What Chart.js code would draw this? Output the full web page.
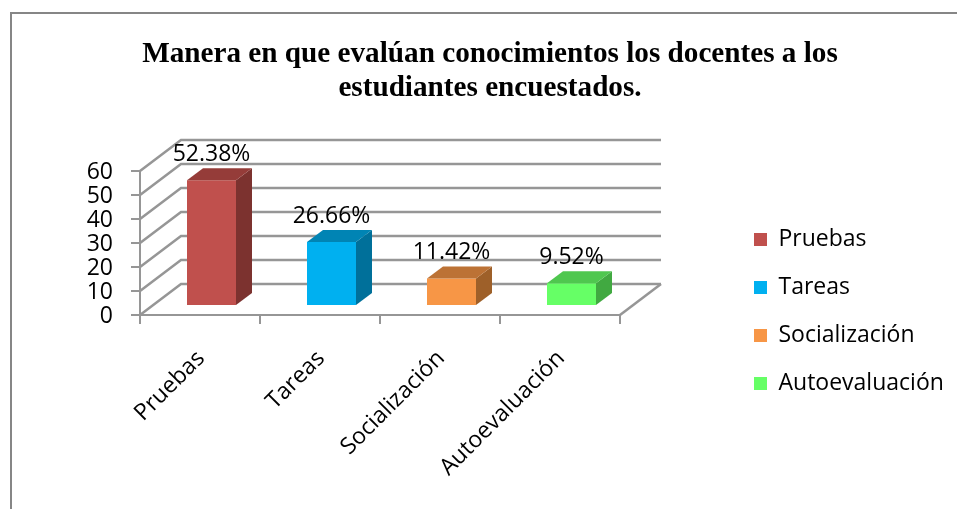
<!DOCTYPE html>
<html><head><meta charset="utf-8">
<style>html,body{margin:0;padding:0;background:#fff;overflow:hidden}#w{position:relative;width:957px;height:509px}</style>
<script src="https://cdn.jsdelivr.net/npm/chart.js@4"></script>
</head><body><div id="w"><canvas id="c" width="957" height="509"></canvas></div>
<script>
const titleLines = ["Manera en que evalúan conocimientos los docentes a los", "estudiantes encuestados."];
const categories = ["Pruebas", "Tareas", "Socialización", "Autoevaluación"];
const values = [52.38, 26.66, 11.42, 9.52];
const frontColors = ["#C0504D", "#00B0F0", "#F79646", "#66FF66"];
const topColors = ["#953C39", "#0084B4", "#BC7235", "#4FC74F"];
const sideColors = ["#7C322F", "#00709A", "#9E6029", "#41A941"];
const FONT = "'Open Sans'";
const BAR_SHIFT = {x: 11.5, y: -9}, BAR_DEPTH = {x: 16, y: -12}, WALL = {x: 41, y: -31};
const GRID = "#969696";

const scene = {
  id: 'scene',
  beforeLayout(chart) {
    const lg = chart.legend, fit = lg.fit;
    if (!lg._wrapped) {
      lg._wrapped = true;
      lg.fit = function () { fit.call(this); this.width = 337; };
    }
  },
  beforeDraw(chart) {
    const c = chart.ctx;
    c.save();
    c.fillStyle = '#fff'; c.fillRect(0, 0, chart.width, chart.height);
    c.strokeStyle = '#868686'; c.lineWidth = 2;
    c.beginPath(); c.moveTo(11, 509); c.lineTo(11, 13); c.lineTo(957, 13); c.stroke();
    c.restore();
    chart.legend.left = 729;
    chart.legend.top = 203;
    chart.legend.bottom = 500;
  },
  beforeDatasetsDraw(chart) {
    const c = chart.ctx, y = chart.scales.y, x = chart.scales.x;
    const l = x.left, r = x.right;
    c.save();
    c.strokeStyle = GRID; c.lineWidth = 2.5;
    y.ticks.forEach(t => {
      const p = y.getPixelForValue(t.value);
      c.beginPath();
      c.moveTo(l, p); c.lineTo(l + WALL.x, p + WALL.y); c.lineTo(r + WALL.x, p + WALL.y);
      c.stroke();
    });
    const p0 = y.getPixelForValue(0);
    c.beginPath(); c.moveTo(r, p0); c.lineTo(r + WALL.x, p0 + WALL.y); c.stroke();
    c.restore();
    c.save();
    c.translate(BAR_SHIFT.x, BAR_SHIFT.y);
  },
  afterDatasetsDraw(chart) {
    const c = chart.ctx;
    const bars = chart.getDatasetMeta(0).data;
    bars.forEach((b, i) => {
      const {x, y, base, width} = b.getProps(['x', 'y', 'base', 'width'], true);
      const L = x - width / 2, R = x + width / 2, d = BAR_DEPTH;
      c.fillStyle = sideColors[i];
      c.beginPath(); c.moveTo(R, y); c.lineTo(R + d.x, y + d.y); c.lineTo(R + d.x, base + d.y); c.lineTo(R, base); c.closePath(); c.fill();
      c.fillStyle = topColors[i];
      c.beginPath(); c.moveTo(L, y); c.lineTo(L + d.x, y + d.y); c.lineTo(R + d.x, y + d.y); c.lineTo(R, y); c.closePath(); c.fill();
    });
    bars.forEach((b, i) => {
      const {x, y} = b.getProps(['x', 'y'], true);
      c.fillStyle = '#000';
      c.font = "23px " + FONT;
      c.textAlign = 'center'; c.textBaseline = 'middle';
      c.fillText(values[i].toFixed(2) + '%', x, y - 26);
    });
    c.restore();
  }
};

new Chart(document.getElementById('c'), {
  type: 'bar',
  data: {
    labels: categories,
    datasets: [{
      data: values,
      backgroundColor: frontColors,
      barPercentage: 1,
      categoryPercentage: 49 / 120,
      borderWidth: 0,
      clip: false
    }]
  },
  plugins: [scene],
  options: {
    responsive: false,
    animation: false,
    layout: {padding: {left: 23, right: 0, top: 0, bottom: 0}},
    plugins: {
      title: {
        display: true,
        text: titleLines,
        color: '#000',
        font: {family: "'Liberation Serif'", size: 29.2, weight: 'bold', lineHeight: 34 / 29.2},
        padding: {top: 37, bottom: 66}
      },
      legend: {
        position: 'right',
        align: 'start',
        labels: {
          boxWidth: 13, boxHeight: 13, padding: 25,
          color: '#000',
          font: {family: FONT, size: 23},
          generateLabels: () => categories.map((t, i) => ({text: t, fillStyle: frontColors[i], strokeStyle: frontColors[i], lineWidth: 0, index: i, hidden: false}))
        }
      },
      tooltip: {enabled: false}
    },
    scales: {
      x: {
        afterFit(s) { s.height = 194; },
        border: {color: GRID, width: 2},
        grid: {drawOnChartArea: false, drawTicks: true, tickLength: 9, color: GRID, lineWidth: 2},
        ticks: {color: '#000', font: {family: FONT, size: 23}, maxRotation: 45, minRotation: 45, autoSkip: false, padding: 21, labelOffset: 1}
      },
      y: {
        min: 0, max: 60,
        afterFit(s) { s.width = 117; },
        border: {color: GRID, width: 2},
        grid: {drawOnChartArea: false, drawTicks: true, tickLength: 9, color: GRID, lineWidth: 2},
        ticks: {stepSize: 10, autoSkip: false, color: '#000', font: {family: FONT, size: 23}, padding: 18, labelOffset: 1}
      }
    }
  }
});
</script></body></html>
